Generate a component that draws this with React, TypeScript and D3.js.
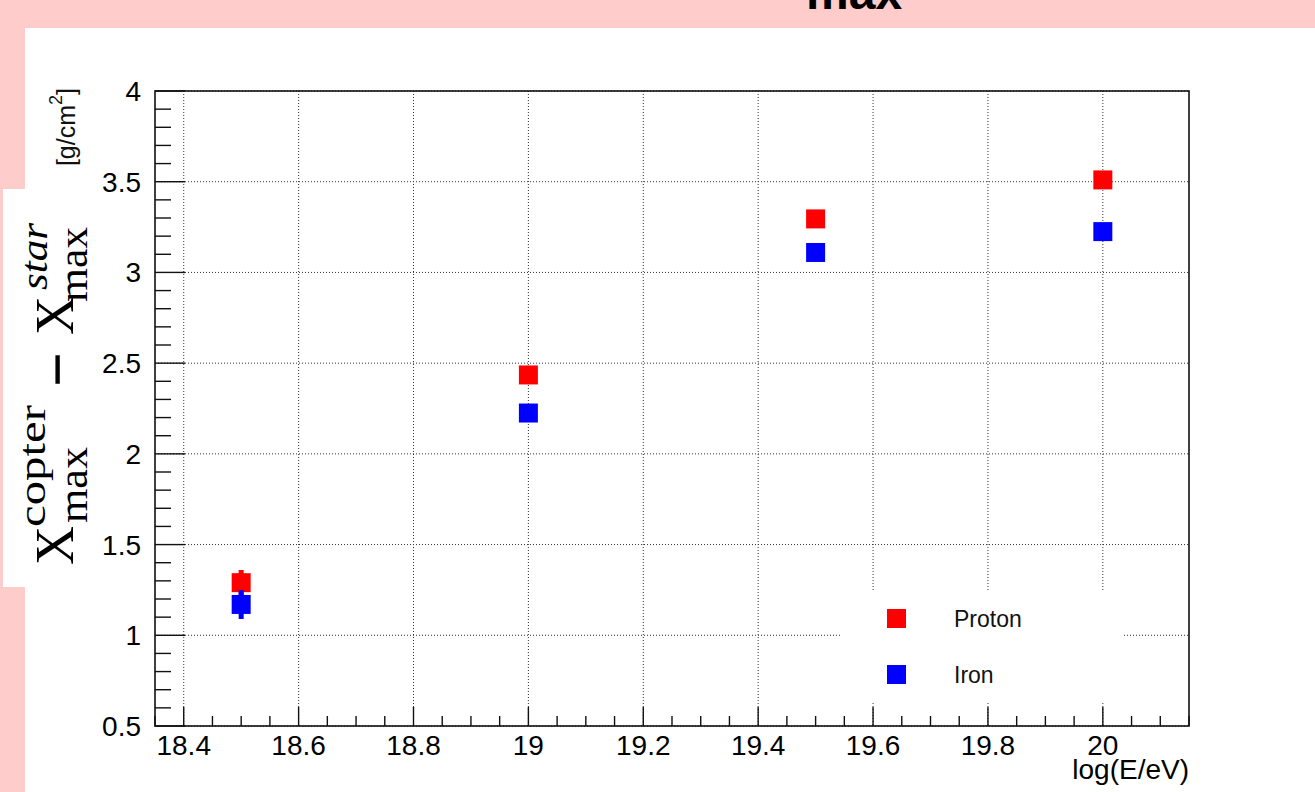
import React from 'react'
import * as d3 from 'd3'

// energies (log10 E/eV) and the Xmax differences
const energies = [18.5, 19.0, 19.5, 20.0]
const protonValues = [1.29, 2.435, 3.295, 3.51]
const protonErrors = [0.07, 0.03, 0.03, 0.03]
const ironValues = [1.17, 2.225, 3.11, 3.225]
const ironErrors = [0.08, 0.03, 0.03, 0.03]

const xTickValues = [18.4, 18.6, 18.8, 19.0, 19.2, 19.4, 19.6, 19.8, 20.0]
const xTickLabels = ['18.4', '18.6', '18.8', '19', '19.2', '19.4', '19.6', '19.8', '20']
const yTickValues = [0.5, 1, 1.5, 2, 2.5, 3, 3.5, 4]
const yTickLabels = ['0.5', '1', '1.5', '2', '2.5', '3', '3.5', '4']

const legendNames = ['Proton', 'Iron']
const seriesColors = ['#ff0000', '#0000ff']

const W = 1315
const H = 792
const sans = 'Liberation Sans, Arial, Helvetica, sans-serif'
const serif = 'Liberation Serif, Times New Roman, serif'

export default function App () {
  const x = d3.scaleLinear().domain([18.35, 20.15]).range([155, 1189])
  const y = d3.scaleLinear().domain([0.5, 4]).range([726, 91])

  const series = [
    { name: legendNames[0], color: seriesColors[0], values: protonValues, errors: protonErrors },
    { name: legendNames[1], color: seriesColors[1], values: ironValues, errors: ironErrors }
  ]

  const square = d3.symbol().type(d3.symbolSquare).size(19 * 19)()

  // minor ticks: every 0.05 on x, 0.1 on y
  const xMinor = d3.range(0, 37).map(i => 18.35 + i * 0.05)
  const yMinor = d3.range(0, 36).map(i => 0.5 + i * 0.1)

  const [x0, x1] = x.range()
  const [y0, y1] = y.range()

  return (
    <div style={{ position: 'fixed', left: 0, top: 0 }}>
      <svg width={W} height={H} style={{ display: 'block' }}>
        {/* pink frame */}
        <rect x={0} y={0} width={W} height={H} fill='#ffcccc' />
        <rect x={25} y={28} width={W - 25} height={H - 28} fill='#ffffff' />
        <text x={806} y={9} fontFamily={sans} fontWeight='bold' fontSize={48} fill='#000'>max</text>

        {/* grid */}
        <g stroke='#333' strokeWidth={1} strokeDasharray='1 2'>
          {xTickValues.map(v => (
            <line key={'gx' + v} x1={x(v)} x2={x(v)} y1={y1} y2={y0} />
          ))}
          {yTickValues.map(v => (
            <line key={'gy' + v} x1={x0} x2={x1} y1={y(v)} y2={y(v)} />
          ))}
        </g>

        {/* legend (white box, no border) */}
        <rect x={840} y={590} width={282} height={113} fill='#fff' />
        {series.map((s, i) => (
          <g key={s.name}>
            <path d={square} transform={`translate(896.5,${618.5 + i * 56})`} fill={s.color} />
            <text x={954} y={627 + i * 56} fontFamily={sans} fontSize={23} fill='#111'>{s.name}</text>
          </g>
        ))}

        {/* frame */}
        <rect x={x0} y={y1} width={x1 - x0} height={y0 - y1} fill='none' stroke='#111' strokeWidth={1.6} />

        {/* ticks */}
        <g stroke='#111' strokeWidth={1.4}>
          {xMinor.map((v, i) => (
            <line key={'xm' + i} x1={x(v)} x2={x(v)} y1={y0} y2={y0 - (i % 4 === 1 ? 19 : 10)} />
          ))}
          {yMinor.map((v, i) => (
            <line key={'ym' + i} x1={x0} x2={x0 + (i % 5 === 0 ? 30 : 16)} y1={y(v)} y2={y(v)} />
          ))}
        </g>

        {/* tick labels */}
        {xTickValues.map((v, i) => (
          <text key={'xl' + v} x={x(v)} y={755} textAnchor='middle' fontFamily={sans} fontSize={28} fill='#000'>{xTickLabels[i]}</text>
        ))}
        {yTickValues.map((v, i) => (
          <text key={'yl' + v} x={141} y={y(v) + 10} textAnchor='end' fontFamily={sans} fontSize={28} fill='#000'>{yTickLabels[i]}</text>
        ))}
        <text x={1189} y={779} textAnchor='end' fontFamily={sans} fontSize={28} fill='#000'>log(E/eV)</text>

        {/* y title: original units plus pasted formula */}
        <g transform='rotate(-90)'>
          <text x={-88} y={75} textAnchor='end' fontFamily={sans} fontSize={25} fill='#111'>
            [g/cm<tspan fontSize={18} dy={-13}>2</tspan><tspan dy={13}>]</tspan>
          </text>
        </g>
        <rect x={3} y={189} width={95} height={398} fill='#fff' />
        <g transform='rotate(-90)' fontFamily={serif} fill='#000'>
          <text x={-565} y={73} fontSize={54}>X</text>
          <text x={-527} y={45} fontSize={38} textLength={122} lengthAdjust='spacingAndGlyphs'>copter</text>
          <text x={-523} y={87} fontSize={42} textLength={76} lengthAdjust='spacingAndGlyphs'>max</text>
          <text x={-386} y={77} fontSize={58} stroke='#000' strokeWidth={1.5}>−</text>
          <text x={-335} y={73} fontSize={54}>X</text>
          <text x={-290} y={47} fontSize={38} fontStyle='italic' textLength={67} lengthAdjust='spacingAndGlyphs'>star</text>
          <text x={-302} y={87} fontSize={42} textLength={75} lengthAdjust='spacingAndGlyphs'>max</text>
        </g>

        {/* data: error bars then markers */}
        {series.map(s => (
          <g key={'d' + s.name}>
            {energies.map((e, i) => (
              <g key={e}>
                <line x1={x(e)} x2={x(e)} y1={y(s.values[i] - s.errors[i])} y2={y(s.values[i] + s.errors[i])} stroke={s.color} strokeWidth={5} />
                <path d={square} transform={`translate(${x(e)},${y(s.values[i])})`} fill={s.color} />
              </g>
            ))}
          </g>
        ))}
      </svg>
    </div>
  )
}
